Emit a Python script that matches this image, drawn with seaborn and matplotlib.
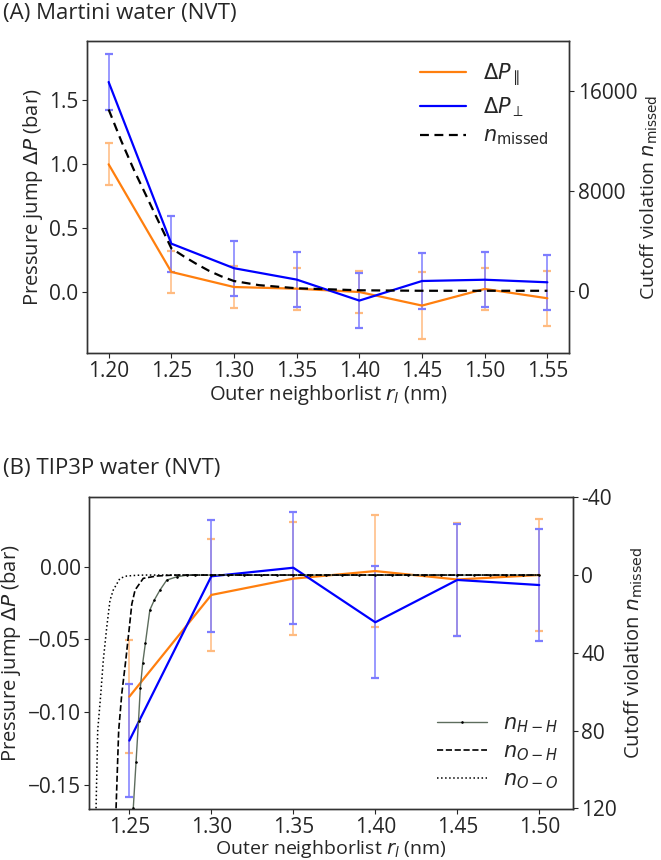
import numpy as np
import pandas as pd
import matplotlib
matplotlib.use("Agg")
import matplotlib.pyplot as plt
import seaborn as sns

# ---------------- data: panel A (Martini water) ----------------
r_A = [1.20, 1.25, 1.30, 1.35, 1.40, 1.45, 1.50, 1.55]
dp_par_A = [1.000, 0.159, 0.041, 0.028, 0.002, -0.104, 0.026, -0.047]
dp_par_err_A = [0.163, 0.164, 0.165, 0.165, 0.165, 0.260, 0.163, 0.213]
dp_perp_A = [1.643, 0.380, 0.188, 0.099, -0.065, 0.088, 0.098, 0.078]
dp_perp_err_A = [0.216, 0.218, 0.216, 0.217, 0.217, 0.217, 0.217, 0.216]

r_missed = [1.20, 1.21, 1.22, 1.23, 1.24, 1.25, 1.26, 1.27, 1.28, 1.29, 1.30,
            1.32, 1.35, 1.40, 1.45, 1.50, 1.55]
n_missed = [14500, 12000, 9700, 7600, 5500, 3400, 2750, 2150, 1600, 1150, 780,
            450, 200, 40, 0, 0, 0]

# ---------------- data: panel B (TIP3P water) ----------------
r_B = [1.25, 1.30, 1.35, 1.40, 1.45, 1.50]
dp_par_B = [-0.0893, -0.0194, -0.0082, -0.0030, -0.0088, -0.0057]
dp_par_err_B = [0.0386, 0.0386, 0.0386, 0.0386, 0.0386, 0.0386]
dp_perp_B = [-0.1195, -0.0066, -0.0007, -0.0382, -0.0091, -0.0126]
dp_perp_err_B = [0.0386, 0.0386, 0.0386, 0.0386, 0.0386, 0.0386]

plateau_r = [1.29, 1.30, 1.31, 1.32, 1.33, 1.34, 1.35, 1.36, 1.37, 1.38, 1.39,
             1.40, 1.41, 1.42, 1.43, 1.44, 1.45, 1.46, 1.47, 1.48, 1.49, 1.50]
r_OO = [1.2297, 1.2307, 1.2326, 1.2341, 1.2362, 1.2382, 1.2402, 1.2443, 1.2484,
        1.2550, 1.2600, 1.2700, 1.2800] + plateau_r
n_OO = [120, 80, 61, 44, 27, 13, 7.7, 1.7, 0.5, 0.1, 0, 0, 0] + [0] * len(plateau_r)
r_OH = [1.2419, 1.2435, 1.2454, 1.2478, 1.2500, 1.2515, 1.2535, 1.2585, 1.2667,
        1.2750, 1.2800] + plateau_r
n_OH = [120, 80, 61, 44, 27, 15, 7.7, 1.7, 0.5, 0.1, 0] + [0] * len(plateau_r)
r_HH = [1.2524, 1.2541, 1.2556, 1.2567, 1.2582, 1.2598, 1.2625, 1.2652, 1.2687,
        1.2728, 1.2789, 1.2850] + plateau_r
n_HH = [120, 96, 75, 58, 45, 35, 18, 12.9, 7.7, 2.6, 0.9, 0.1] + [0] * len(plateau_r)

xticks_A = [1.20, 1.25, 1.30, 1.35, 1.40, 1.45, 1.50, 1.55]
xticks_B = [1.25, 1.30, 1.35, 1.40, 1.45, 1.50]
yticks_B = [-0.15, -0.10, -0.05, 0.00]
rticks_A = [0, 8000, 16000]
rticks_B = [-40, 0, 40, 80, 120]
rticklabels_B = ["-40", "0", "40", "80", "120"]

# ---------------- style ----------------
sns.set_style("ticks")
plt.rcParams["font.family"] = ["Open Sans", "DejaVu Sans"]
plt.rcParams["mathtext.fontset"] = "dejavusans"
FS = 15
plt.rcParams["font.size"] = FS
plt.rcParams["axes.labelsize"] = 14.5
plt.rcParams["xtick.labelsize"] = FS
plt.rcParams["ytick.labelsize"] = FS
plt.rcParams["xtick.major.size"] = 3.5
plt.rcParams["ytick.major.size"] = 3.5
plt.rcParams["xtick.major.pad"] = 2.0
plt.rcParams["ytick.major.pad"] = 2.5

C_ORANGE = "#ff7f0e"
C_BLUE = "#0000ff"
C_ORANGE_ERR = "#ffbb80"
C_BLUE_ERR = "#7d7dff"

W, H = 661, 860
fig = plt.figure(figsize=(W / 100, H / 100), dpi=100)

def rect(l, t, r, b):
    return [l / W, 1 - b / H, (r - l) / W, (b - t) / H]

axA = fig.add_axes(rect(86.7, 40.7, 569.3, 353.3))
axB = fig.add_axes(rect(89.0, 496.7, 572.7, 809.3))

def draw_pressure(ax, r, par, par_err, perp, perp_err):
    ax.errorbar(r, par, yerr=par_err, fmt="none", ecolor=C_ORANGE_ERR,
                elinewidth=1.1, capsize=3, capthick=1.6, zorder=1)
    ax.errorbar(r, perp, yerr=perp_err, fmt="none", ecolor=C_BLUE_ERR,
                elinewidth=1.1, capsize=3, capthick=1.6, zorder=1.1)
    sns.lineplot(x=r, y=par, ax=ax, color=C_ORANGE, lw=1.6, errorbar=None,
                 label=r"$\Delta P_{\parallel}$", legend=False, zorder=2)
    sns.lineplot(x=r, y=perp, ax=ax, color=C_BLUE, lw=1.6, errorbar=None,
                 label=r"$\Delta P_{\perp}$", legend=False, zorder=2.1)

# ---------------- Panel A ----------------
draw_pressure(axA, r_A, dp_par_A, dp_par_err_A, dp_perp_A, dp_perp_err_A)
axA.set_xlim(1.1825, 1.5675)
axA.set_ylim(-0.477, 1.966)
axA.set_xticks(xticks_A)
axA.set_xticklabels([f"{v:.2f}" for v in xticks_A])
axA.set_yticks([0.0, 0.5, 1.0, 1.5])
axA.set_xlabel(r"Outer neighborlist $r_l$ (nm)", labelpad=1)
axA.set_ylabel(r"Pressure jump $\Delta P$ (bar)", labelpad=3)

axA2 = axA.twinx()
sns.lineplot(x=r_missed, y=n_missed, ax=axA2, color="black", lw=1.6,
             linestyle=(0, (4, 2.5)), errorbar=None, label=r"$n_{\mathrm{missed}}$",
             legend=False)
axA2.set_ylim(-5000, 20000)
axA2.set_yticks(rticks_A)
axA2.set_ylabel(r"Cutoff violation $n_{\mathrm{missed}}$", labelpad=1, fontsize=14)
h1, l1 = axA.get_legend_handles_labels()
h2, l2 = axA2.get_legend_handles_labels()
axA2.legend(h1 + h2, l1 + l2, loc="upper right", frameon=False, fontsize=FS,
            handlelength=2.2, labelspacing=0.35, borderaxespad=0.6)

# ---------------- Panel B ----------------
draw_pressure(axB, r_B, dp_par_B, dp_par_err_B, dp_perp_B, dp_perp_err_B)
axB.set_xlim(1.2254, 1.5204)
axB.set_ylim(-0.1667, 0.0481)
axB.set_xticks(xticks_B)
axB.set_xticklabels([f"{v:.2f}" for v in xticks_B])
axB.set_yticks(yticks_B)
axB.set_yticklabels([f"{v:.2f}".replace("-", "\u2212") for v in yticks_B])
axB.set_xlabel(r"Outer neighborlist $r_l$ (nm)", labelpad=0, fontsize=14)
axB.set_ylabel(r"Pressure jump $\Delta P$ (bar)", labelpad=3)

axB2 = axB.twinx()
sns.lineplot(x=r_HH, y=n_HH, ax=axB2, color="#5d6d5d", lw=1.0, marker=".",
             markersize=2.2, markerfacecolor="black", markeredgecolor="black",
             errorbar=None, sort=False, label=r"$n_{H-H}$", legend=False)
sns.lineplot(x=r_OH, y=n_OH, ax=axB2, color="black", lw=1.2, linestyle="--",
             errorbar=None, sort=False, label=r"$n_{O-H}$", legend=False)
sns.lineplot(x=r_OO, y=n_OO, ax=axB2, color="black", lw=1.1, linestyle=":",
             errorbar=None, sort=False, label=r"$n_{O-O}$", legend=False)
axB2.set_ylim(120.5, -40.3)
axB2.set_yticks(rticks_B)
axB2.set_yticklabels(rticklabels_B)
axB2.set_ylabel(r"Cutoff violation $n_{\mathrm{missed}}$", labelpad=4)
axB2.legend(loc="lower right", frameon=False, fontsize=15, handlelength=2.4,
            labelspacing=0.3, bbox_to_anchor=(1.01, 0.0))

for ax in (axA, axA2, axB, axB2):
    for s in ax.spines.values():
        s.set_linewidth(1.0)
        s.set_color("#333333")

fig.text(0.004, 1 - 14 / H, "(A) Martini water (NVT)", fontsize=16, va="center", ha="left")
fig.text(0.004, 1 - 468 / H, "(B) TIP3P water (NVT)", fontsize=16, va="center", ha="left")

fig.savefig("out.png", dpi=100)
